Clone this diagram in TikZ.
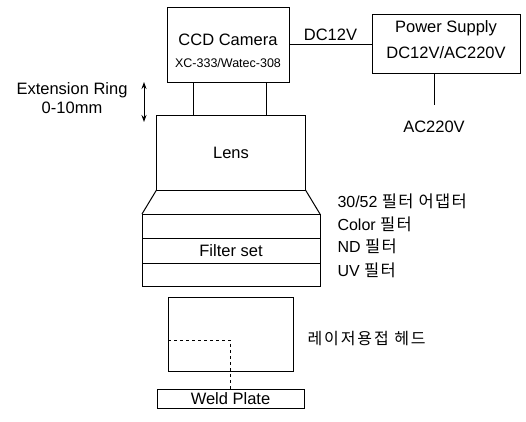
\documentclass[tikz,border=0pt]{standalone}
\usepackage{fontspec}
\setmainfont{Liberation Sans}
\newfontfamily\krfont[LetterSpace=8]{Noto Sans CJK KR}
\usetikzlibrary{arrows.meta}
\begin{document}
\begin{tikzpicture}[x=1pt, y=-1pt, >={Stealth[length=7pt,width=5pt]}, line width=1pt,
  box/.style={draw, inner sep=0pt, outer sep=0pt},
  txt/.style={inner sep=1pt, font=\fontsize{16.5}{19}\selectfont},
  small/.style={inner sep=1pt, font=\fontsize{12.5}{15}\selectfont},
  kr/.style={anchor=west, inner sep=0pt, font=\fontsize{16}{17}\selectfont}]
\useasboundingbox (0,0) rectangle (526,421);

% camera and power supply
\node[box, minimum width=122, minimum height=75] (cam) at (228,44.5) {};
\node[txt] (camname) at (228,40) {CCD Camera};
\node[small] (cammodel) at (228,63) {XC-333/Watec-308};
\node[box, minimum width=148, minimum height=59] (psu) at (446,43.5) {};
\node[txt] (psuname) at (446,28) {Power Supply};
\node[txt] (psuvolt) at (446,53) {DC12V/AC220V};
\draw (cam.east) -- node[txt, above=2pt] (dc) {DC12V} (cam.east -| psu.west);
\node[txt] (ac) at (434,127) {AC220V};
\draw[shorten >=15pt] (psu.south -| ac) -- (ac.north);

% extension ring
\node[box, minimum width=73, minimum height=33] (ring) at (229.5,98.5) {};
\node[txt, align=center] (ringlbl) at (72,98) {Extension Ring\\0-10mm};
\coordinate (rtop) at (144,82);
\coordinate (rbot) at (144,122);
\draw[<->] (rtop) -- (rbot);

% lens, adapter, filters
\node[box, minimum width=149, minimum height=75] (lens) at (231,152.5) {};
\node[txt] (lenslbl) at (231,153) {Lens};
\node[box, minimum width=178, minimum height=24] (f1) at (231,226) {};
\node[box, minimum width=178, minimum height=25, anchor=north] (fset) at (f1.south) {};
\node[txt] (fsetlbl) at (fset) {Filter set};
\node[box, minimum width=178, minimum height=23, anchor=north] (f3) at (fset.south) {};
\draw (lens.south west) -- (f1.north west);
\draw (lens.south east) -- (f1.north east);

\node[kr] (k1) at (337,201) {30/52 {\krfont\fontsize{16.5}{17}\selectfont 필터 어댑터}};
\node[kr] (k2) at (337,224) {Color {\krfont\fontsize{16.5}{17}\selectfont 필터}};
\node[kr] (k3) at (337,246) {ND {\krfont\fontsize{16.5}{17}\selectfont 필터}};
\node[kr] (k4) at (337,270) {UV {\krfont\fontsize{16.5}{17}\selectfont 필터}};

% laser welding head and weld plate
\node[box, minimum width=125, minimum height=74] (head) at (230.5,334) {};
\node[kr, font=\krfont\fontsize{16}{18}\selectfont\addfontfeature{LetterSpace=12}] (headlbl) at (307,339) {레이저용접 헤드};
\node[box, minimum width=147, minimum height=19] (plate) at (230.5,398.5) {};
\node[txt] (platelbl) at (plate) {Weld Plate};
\coordinate (beam) at (230,340);
\draw[dashed, line width=0.7pt] (head.west |- beam) -- (beam) -- (plate.north -| beam);
\end{tikzpicture}
\end{document}
